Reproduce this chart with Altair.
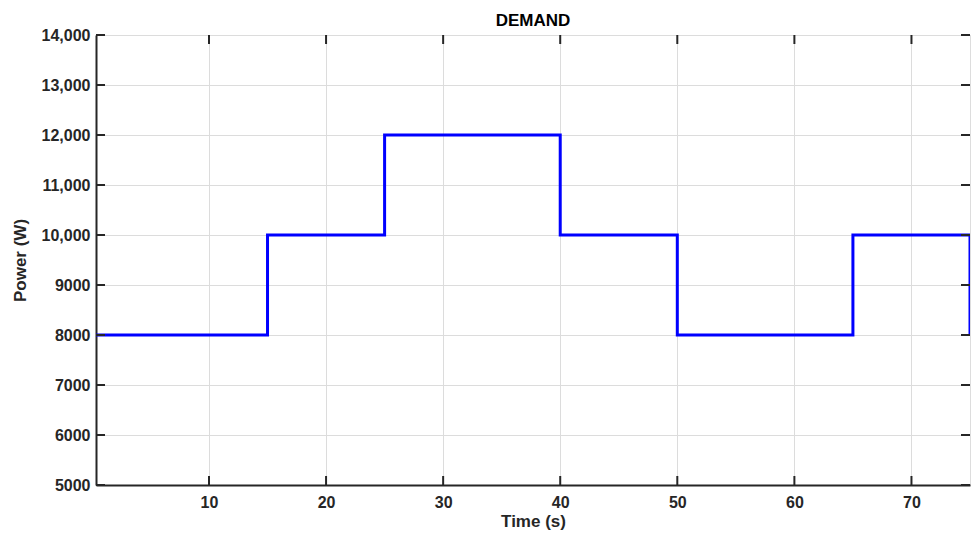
import altair as alt
import pandas as pd

time_s = [0.35, 15, 25, 40, 50, 65, 75]
power_w = [8000, 10000, 12000, 10000, 8000, 10000, 8000]
x_ticks = [10, 20, 30, 40, 50, 60, 70]
y_ticks = [5000, 6000, 7000, 8000, 9000, 10000, 11000, 12000, 13000, 14000]
chart_title = ["DEMAND"]

W, H = 874, 450
FONT = "Liberation Sans"
AX = "#262626"

df = pd.DataFrame({"t": time_s, "p": power_w})
xt = pd.DataFrame({"t": x_ticks})
yt = pd.DataFrame({"p": y_ticks})
tt = pd.DataFrame({"label": chart_title})

xscale = alt.Scale(domain=[0.35, 75], nice=False, zero=False)
yscale = alt.Scale(domain=[5000, 14000], nice=False, zero=False)

line = alt.Chart(df).mark_line(interpolate="step-after", color="#0000FF", strokeWidth=3, clip=True).encode(
    x=alt.X("t:Q", scale=xscale, title="Time (s)",
            axis=alt.Axis(values=x_ticks, tickSize=0, labelPadding=9, titlePadding=3,
                          grid=True, gridColor="#DCDCDC", gridWidth=1,
                          domainColor=AX, domainWidth=2, labelColor=AX, titleColor=AX,
                          labelFont=FONT, labelFontSize=16, labelFontWeight="bold",
                          titleFont=FONT, titleFontSize=17, titleFontWeight="bold")),
    y=alt.Y("p:Q", scale=yscale, title="Power (W)",
            axis=alt.Axis(values=y_ticks, tickSize=0, labelPadding=6, titlePadding=12,
                          grid=True, gridColor="#DCDCDC", gridWidth=1,
                          labelExpr="datum.value >= 10000 ? format(datum.value, ',') : format(datum.value, 'd')",
                          domainColor=AX, domainWidth=2, labelColor=AX, titleColor=AX,
                          labelFont=FONT, labelFontSize=16, labelFontWeight="bold",
                          titleFont=FONT, titleFontSize=17, titleFontWeight="bold")),
)

tick_len = 9
xtick_bottom = alt.Chart(xt).mark_rule(color=AX, strokeWidth=2).encode(
    x=alt.X("t:Q", scale=xscale), y=alt.value(H - tick_len), y2=alt.value(H))
xtick_top = alt.Chart(xt).mark_rule(color=AX, strokeWidth=2).encode(
    x=alt.X("t:Q", scale=xscale), y=alt.value(0), y2=alt.value(tick_len))
ytick_left = alt.Chart(yt).mark_rule(color=AX, strokeWidth=2).encode(
    y=alt.Y("p:Q", scale=yscale), x=alt.value(0), x2=alt.value(tick_len))
ytick_right = alt.Chart(yt).mark_rule(color=AX, strokeWidth=2).encode(
    y=alt.Y("p:Q", scale=yscale), x=alt.value(W - tick_len), x2=alt.value(W))

title_text = alt.Chart(tt).mark_text(font=FONT, fontSize=17, fontWeight="bold", color="#000000",
                                     align="center", baseline="alphabetic").encode(
    text="label:N", x=alt.value(W / 2), y=alt.value(-9.5))

chart = alt.layer(line, xtick_bottom, xtick_top, ytick_left, ytick_right, title_text).properties(
    width=W, height=H,
    autosize=alt.AutoSizeParams(type="none"),
    padding={"left": 88, "top": 27, "right": 1, "bottom": 48},
).configure_view(stroke=AX, strokeWidth=2).configure(background="white")

chart.save("out.html", embed_options={"renderer": "svg", "actions": False})
